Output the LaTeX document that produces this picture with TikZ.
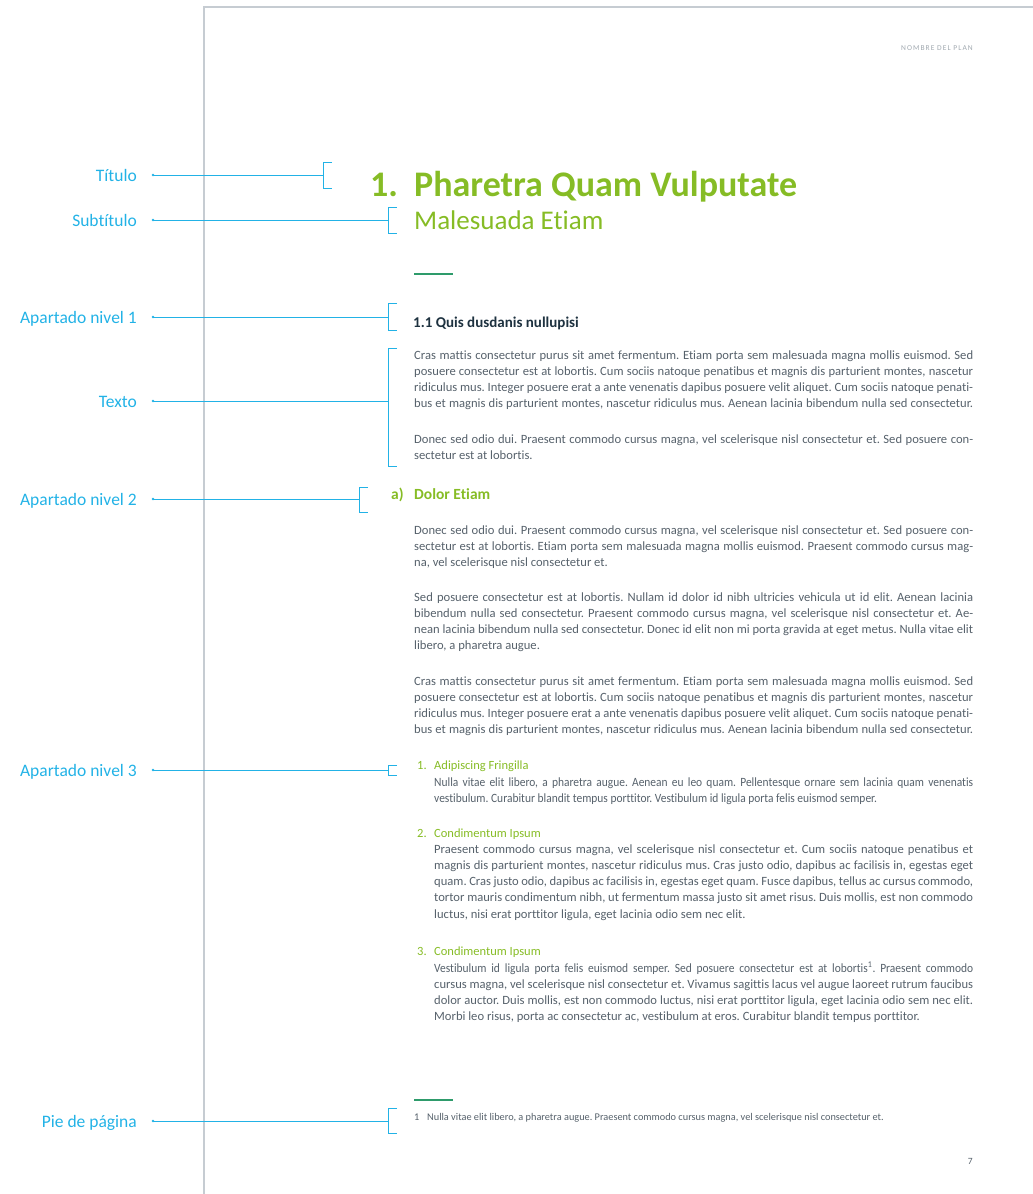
\documentclass[tikz,border=0pt]{standalone}
\usepackage{fontspec}
\setmainfont{Carlito}[Ligatures=NoCommon]
\newfontfamily\cuerpo{Carlito}[Ligatures=NoCommon]
\newfontfamily\estrecho{Carlito}[FakeStretch=0.91, Ligatures=NoCommon]
\newfontfamily\cabecera{Carlito}[LetterSpace=14]
\frenchspacing

\definecolor{azul}{HTML}{22B2E6}
\definecolor{verde}{HTML}{86BC25}
\definecolor{verdelinea}{HTML}{2E9B6B}
\definecolor{marino}{HTML}{1E3240}
\definecolor{gristexto}{HTML}{56616B}
\definecolor{grisplan}{HTML}{A0A8AF}
\definecolor{grismarco}{HTML}{C6CCD2}

\tikzset{
  etiqueta/.style={anchor=base east, inner sep=0pt, text=azul,
    font=\fontsize{17.5}{20}\selectfont},
  conector/.style={draw=azul, line width=0.9pt},
  punto/.style={fill=azul, circle, inner sep=0pt, minimum size=2.6pt},
  corchete/.style={draw=azul, line width=0.9pt},
  parrafo/.style={anchor=base west, inner sep=0pt, text width=559pt,
    align=justify, text=gristexto,
    font={\cuerpo\fontsize{12.6}{16.3}\selectfont\tolerance=10000\frenchspacing}},
  item/.style={parrafo, text width=539pt},
  numero/.style={anchor=base west, inner sep=0pt, text=verde}
}

\newcommand{\finllena}{\parfillskip=0pt\par}

\begin{document}
\begin{tikzpicture}[x=1pt, y=-1pt]
  \useasboundingbox (0,0) rectangle (1033,1194);

  % marco de la pagina
  \draw[grismarco, line width=1.6pt] (204,1194) -- (204,7) -- (1033,7);
  \node[anchor=base east, inner sep=0pt, text=grisplan,
    font=\cabecera\fontsize{7.5}{9}\selectfont] (plan) at (973,50) {NOMBRE DEL PLAN};

  % titulo y subtitulo
  \node[numero, font=\bfseries\fontsize{36}{40}\selectfont] (num) at (370,196) {1.};
  \node[numero, font=\bfseries\fontsize{36}{40}\selectfont] (titulo) at (414,196) {Pharetra Quam Vulputate};
  \node[numero, font=\fontsize{27}{30}\selectfont] (subtitulo) at (414,229) {Malesuada Etiam};
  \draw[verdelinea, line width=1.4pt] (414,274) -- (453,274);

  % apartado 1
  \node[anchor=base west, inner sep=0pt, text=marino,
    font=\bfseries\fontsize{15}{18}\selectfont] (ap1) at (413,327) {1.1 Quis dusdanis nullupisi};
  \node[parrafo] (p1) at (414,359) {Cras mattis consectetur purus sit amet fermentum. Etiam porta sem malesuada magna mollis euismod. Sed\linebreak
    posuere consectetur est at lobortis. Cum sociis natoque penatibus et magnis dis parturient montes, nascetur\linebreak
    ridiculus mus. Integer posuere erat a ante venenatis dapibus posuere velit aliquet. Cum sociis natoque penati-\linebreak
    bus et magnis dis parturient montes, nascetur ridiculus mus. Aenean lacinia bibendum nulla sed consectetur.\finllena};
  \node[parrafo] (p2) at (414,443) {Donec sed odio dui. Praesent commodo cursus magna, vel scelerisque nisl consectetur et. Sed posuere con-\linebreak
    sectetur est at lobortis.};

  % apartado 2
  \node[numero, font=\bfseries\fontsize{15.5}{18}\selectfont] (letra) at (391,499) {a)};
  \node[numero, font=\bfseries\fontsize{15.5}{18}\selectfont] (ap2) at (414,499) {Dolor Etiam};
  \node[parrafo] (p3) at (414,534) {Donec sed odio dui. Praesent commodo cursus magna, vel scelerisque nisl consectetur et. Sed posuere con-\linebreak
    sectetur est at lobortis. Etiam porta sem malesuada magna mollis euismod. Praesent commodo cursus mag-\linebreak
    na, vel scelerisque nisl consectetur et.};
  \node[parrafo] (p4) at (414,601) {Sed posuere consectetur est at lobortis. Nullam id dolor id nibh ultricies vehicula ut id elit. Aenean lacinia\linebreak
    bibendum nulla sed consectetur. Praesent commodo cursus magna, vel scelerisque nisl consectetur et. Ae-\linebreak
    nean lacinia bibendum nulla sed consectetur. Donec id elit non mi porta gravida at eget metus. Nulla vitae elit\linebreak
    libero, a pharetra augue.};
  \node[parrafo] (p5) at (414,685) {Cras mattis consectetur purus sit amet fermentum. Etiam porta sem malesuada magna mollis euismod. Sed\linebreak
    posuere consectetur est at lobortis. Cum sociis natoque penatibus et magnis dis parturient montes, nascetur\linebreak
    ridiculus mus. Integer posuere erat a ante venenatis dapibus posuere velit aliquet. Cum sociis natoque penati-\linebreak
    bus et magnis dis parturient montes, nascetur ridiculus mus. Aenean lacinia bibendum nulla sed consectetur.\finllena};

  % apartado 3
  \node[numero, font=\cuerpo\fontsize{12.5}{15}\selectfont] (n1) at (417,769) {1.};
  \node[numero, font=\cuerpo\fontsize{12.5}{15}\selectfont] (ap3) at (434,769) {Adipiscing Fringilla};
  \node[item] (i1) at (434,786) {\estrecho Nulla vitae elit libero, a pharetra augue. Aenean eu leo quam. Pellentesque ornare sem lacinia quam venenatis\linebreak
    vestibulum. Curabitur blandit tempus porttitor. Vestibulum id ligula porta felis euismod semper.};
  \node[numero, font=\cuerpo\fontsize{12.5}{15}\selectfont] (n2) at (417,837) {2.};
  \node[numero, font=\cuerpo\fontsize{12.5}{15}\selectfont] (c2) at (434,837) {Condimentum Ipsum};
  \node[item] (i2) at (434,853) {Praesent commodo cursus magna, vel scelerisque nisl consectetur et. Cum sociis natoque penatibus et\linebreak
    magnis dis parturient montes, nascetur ridiculus mus. Cras justo odio, dapibus ac facilisis in, egestas eget\linebreak
    quam. Cras justo odio, dapibus ac facilisis in, egestas eget quam. Fusce dapibus, tellus ac cursus commodo,\linebreak
    tortor mauris condimentum nibh, ut fermentum massa justo sit amet risus. Duis mollis, est non commodo\linebreak
    luctus, nisi erat porttitor ligula, eget lacinia odio sem nec elit.};
  \node[numero, font=\cuerpo\fontsize{12.5}{15}\selectfont] (n3) at (417,955) {3.};
  \node[numero, font=\cuerpo\fontsize{12.5}{15}\selectfont] (c3) at (434,955) {Condimentum Ipsum};
  \node[item] (i3) at (434,972) {{\estrecho Vestibulum id ligula porta felis euismod semper. Sed posuere consectetur est at lobortis\textsuperscript{1}. Praesent commodo}\linebreak
    cursus magna, vel scelerisque nisl consectetur et. Vivamus sagittis lacus vel augue laoreet rutrum faucibus\linebreak
    dolor auctor. Duis mollis, est non commodo luctus, nisi erat porttitor ligula, eget lacinia odio sem nec elit.\linebreak
    Morbi leo risus, porta ac consectetur ac, vestibulum at eros. Curabitur blandit tempus porttitor.};

  % pie de pagina
  \draw[verdelinea, line width=1.4pt] (414,1100) -- (453,1100);
  \node[anchor=base west, inner sep=0pt, text=gristexto, font=\cuerpo\fontsize{10.3}{12}\selectfont] (nota) at (414,1120) {1};
  \node[anchor=base west, inner sep=0pt, text=gristexto, font=\cuerpo\fontsize{10.3}{12}\selectfont] (pie) at (427,1120) {Nulla vitae elit libero, a pharetra augue. Praesent commodo cursus magna, vel scelerisque nisl consectetur et.};
  \node[anchor=base east, inner sep=0pt, text=gristexto, font=\cuerpo\fontsize{9.5}{11}\selectfont] (pag) at (973,1164) {7};

  % etiquetas
  \node[etiqueta] (lTitulo) at (137,181) {Título};
  \node[etiqueta] (lSubtitulo) at (137,226) {Subtítulo};
  \node[etiqueta] (lAp1) at (137,323) {Apartado nivel 1};
  \node[etiqueta] (lTexto) at (137,407) {Texto};
  \node[etiqueta] (lAp2) at (137,505) {Apartado nivel 2};
  \node[etiqueta] (lAp3) at (137,776) {Apartado nivel 3};
  \node[etiqueta] (lPie) at (137,1127) {Pie de página};

  % corchetes
  \coordinate (bTitulo) at (323,175);
  \coordinate (bSubtitulo) at (388,220);
  \coordinate (bAp1) at (388,317);
  \coordinate (bTexto) at (388,401);
  \coordinate (bAp2) at (359,499);
  \coordinate (bAp3) at (388,770);
  \coordinate (bPie) at (388,1121);
  \draw[corchete] (332,162) -- (323,162) -- (323,188) -- (332,188);
  \draw[corchete] (397,207) -- (388,207) -- (388,233) -- (397,233);
  \draw[corchete] (397,303) -- (388,303) -- (388,330) -- (397,330);
  \draw[corchete] (397,348) -- (388,348) -- (388,466) -- (397,466);
  \draw[corchete] (368,487) -- (359,487) -- (359,512) -- (368,512);
  \draw[corchete] (397,765) -- (388,765) -- (388,775) -- (397,775);
  \draw[corchete] (397,1108) -- (388,1108) -- (388,1133) -- (397,1133);

  % conectores
  \node[punto] (dTitulo) at (153,175) {};
  \node[punto] (dSubtitulo) at (153,220) {};
  \node[punto] (dAp1) at (153,317) {};
  \node[punto] (dTexto) at (153,401) {};
  \node[punto] (dAp2) at (153,499) {};
  \node[punto] (dAp3) at (153,770) {};
  \node[punto] (dPie) at (153,1121) {};
  \draw[conector] (dTitulo.center) -- (bTitulo);
  \draw[conector] (dSubtitulo.center) -- (bSubtitulo);
  \draw[conector] (dAp1.center) -- (bAp1);
  \draw[conector] (dTexto.center) -- (bTexto);
  \draw[conector] (dAp2.center) -- (bAp2);
  \draw[conector] (dAp3.center) -- (bAp3);
  \draw[conector] (dPie.center) -- (bPie);
\end{tikzpicture}
\end{document}
